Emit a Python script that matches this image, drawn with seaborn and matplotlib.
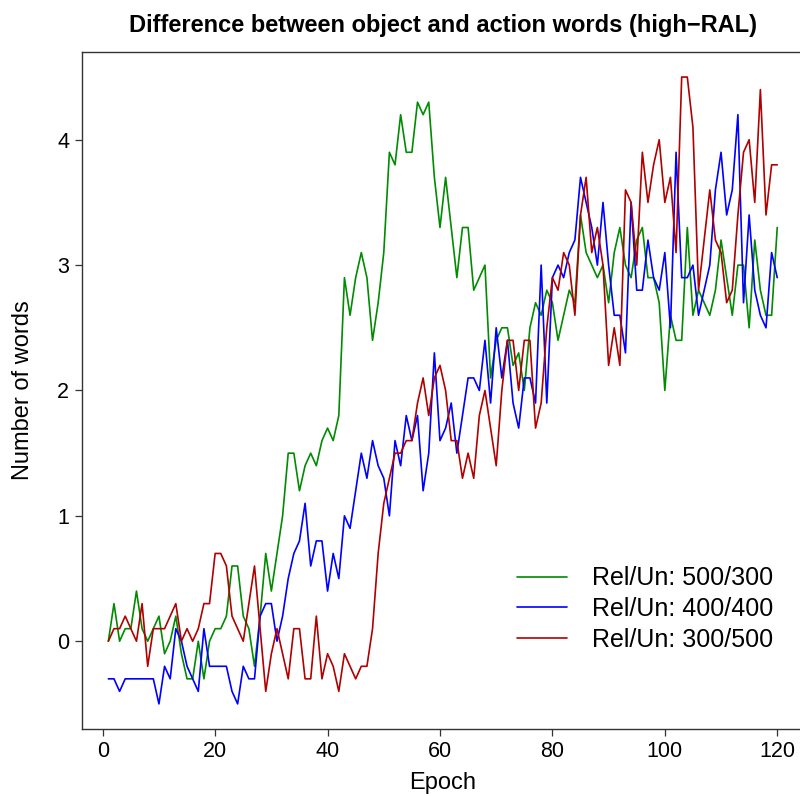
import numpy as np
import pandas as pd
import matplotlib
matplotlib.use("Agg")
import matplotlib.pyplot as plt
import seaborn as sns

# 数据：每个 epoch 的 object - action 词数差
epochs = list(range(1, 121))

rel500_un300 = [
    0.0, 0.3, 0.0, 0.1, 0.1, 0.4, 0.1, 0.0, 0.1, 0.2,
    -0.1, 0.0, 0.2, -0.1, -0.3, -0.3, 0.0, -0.3, 0.0, 0.1,
    0.1, 0.2, 0.6, 0.6, 0.2, 0.1, -0.2, 0.2, 0.7, 0.4,
    0.7, 1.0, 1.5, 1.5, 1.2, 1.4, 1.5, 1.4, 1.6, 1.7,
    1.6, 1.8, 2.9, 2.6, 2.9, 3.1, 2.9, 2.4, 2.7, 3.1,
    3.9, 3.8, 4.2, 3.9, 3.9, 4.3, 4.2, 4.3, 3.7, 3.3,
    3.7, 3.3, 2.9, 3.3, 3.3, 2.8, 2.9, 3.0, 2.1, 2.4,
    2.5, 2.5, 2.2, 2.3, 2.0, 2.5, 2.7, 2.6, 2.8, 2.7,
    2.4, 2.6, 2.8, 2.7, 3.4, 3.1, 3.0, 2.9, 3.0, 2.7,
    3.1, 3.3, 3.0, 2.9, 3.2, 3.3, 2.9, 2.9, 2.7, 2.0,
    2.6, 2.4, 2.4, 3.3, 2.6, 2.8, 2.7, 2.6, 2.8, 3.2,
    2.9, 2.6, 3.0, 3.0, 2.5, 3.2, 2.8, 2.6, 2.6, 3.3,
]

rel400_un400 = [
    -0.3, -0.3, -0.4, -0.3, -0.3, -0.3, -0.3, -0.3, -0.3, -0.5,
    -0.2, -0.3, 0.1, 0.0, -0.2, -0.3, -0.4, 0.1, -0.2, -0.2,
    -0.2, -0.2, -0.4, -0.5, -0.2, -0.3, -0.3, 0.2, 0.3, 0.3,
    0.0, 0.2, 0.5, 0.7, 0.8, 1.1, 0.6, 0.8, 0.8, 0.4,
    0.7, 0.5, 1.0, 0.9, 1.2, 1.5, 1.3, 1.6, 1.4, 1.3,
    1.0, 1.6, 1.4, 1.8, 1.6, 1.8, 1.2, 1.5, 2.3, 1.6,
    1.7, 1.9, 1.5, 1.8, 2.1, 2.1, 2.0, 2.4, 1.9, 2.5,
    2.1, 2.4, 1.9, 1.7, 2.1, 2.1, 1.9, 3.0, 1.9, 2.9,
    3.0, 2.9, 3.1, 3.2, 3.7, 3.5, 3.3, 3.0, 3.5, 3.0,
    2.6, 2.6, 2.3, 3.5, 2.8, 2.8, 3.2, 2.9, 2.8, 3.1,
    2.5, 3.9, 2.9, 2.9, 3.0, 2.6, 2.8, 3.0, 3.6, 3.9,
    3.4, 3.6, 4.2, 2.7, 3.4, 2.8, 2.6, 2.5, 3.1, 2.9,
]

rel300_un500 = [
    0.0, 0.1, 0.1, 0.2, 0.1, 0.0, 0.3, -0.2, 0.1, 0.1,
    0.1, 0.2, 0.3, 0.0, 0.1, 0.0, 0.1, 0.3, 0.3, 0.7,
    0.7, 0.6, 0.2, 0.1, 0.0, 0.3, 0.6, 0.1, -0.4, -0.1,
    0.1, -0.1, -0.3, 0.1, 0.1, -0.3, -0.3, 0.2, -0.3, -0.1,
    -0.2, -0.4, -0.1, -0.2, -0.3, -0.2, -0.2, 0.1, 0.7, 1.1,
    1.3, 1.5, 1.5, 1.6, 1.6, 1.9, 2.1, 1.8, 2.1, 2.2,
    2.0, 1.6, 1.6, 1.3, 1.5, 1.3, 1.8, 2.0, 1.7, 1.4,
    2.0, 2.4, 2.4, 2.0, 2.4, 2.4, 1.7, 1.9, 2.5, 2.9,
    2.8, 3.1, 3.0, 2.6, 3.4, 3.7, 3.1, 3.3, 3.0, 2.2,
    2.5, 2.2, 3.6, 3.5, 3.0, 3.9, 3.5, 3.8, 4.0, 3.5,
    3.7, 3.1, 4.5, 4.5, 4.1, 2.8, 3.2, 3.6, 3.2, 3.1,
    2.7, 2.8, 3.4, 3.9, 4.0, 3.5, 4.4, 3.4, 3.8, 3.8,
]

labels = ["Rel/Un: 500/300", "Rel/Un: 400/400", "Rel/Un: 300/500"]
colors = ["#008B00", "#0000FF", "#B00000"]

# 整理成长表给 seaborn 用
df = pd.DataFrame({
    "Epoch": epochs * 3,
    "Number of words": rel500_un300 + rel400_un400 + rel300_un500,
    "Condition": [labels[0]] * 120 + [labels[1]] * 120 + [labels[2]] * 120,
})

sns.set_style("white")
plt.rcParams['font.family'] = ['Liberation Sans', 'DejaVu Sans']
plt.rcParams['text.color'] = 'black'
plt.rcParams['axes.labelcolor'] = 'black'

fig = plt.figure(figsize=(8, 7.96), dpi=100)
# R 风格的绘图区域（右边框在画布外）
ax = fig.add_axes([0.102, 0.0842, 0.903, 0.8505])

sns.lineplot(data=df, x="Epoch", y="Number of words", hue="Condition",
             hue_order=labels, palette=colors, linewidth=1.2, ax=ax)

# R 默认的 4% 坐标轴扩展
ax.set_xlim(1 - 0.04 * 119, 120 + 0.04 * 119)
ax.set_ylim(-0.5 - 0.04 * 5, 4.5 + 0.04 * 5)
ax.set_xticks([0, 20, 40, 60, 80, 100, 120])
ax.set_yticks([0, 1, 2, 3, 4])

for s in ax.spines.values():
    s.set_color("#333333")
    s.set_linewidth(1.0)

ax.tick_params(axis="both", direction="out", length=5, width=0.9,
               colors="#333333", labelcolor="black", labelsize=15.5, pad=4)
ax.tick_params(axis="both", bottom=True, left=True)

ax.set_xlabel("Epoch", fontsize=17)
ax.set_ylabel("Number of words", fontsize=17)
ax.xaxis.set_label_coords(0.5, -0.08)
ax.xaxis.label.set_va("center")
ax.yaxis.set_label_coords(-0.081, 0.5)
ax.yaxis.label.set_va("center")

ax.set_title("Difference between object and action words (high\u2212RAL)",
             fontsize=17, fontweight="bold", y=1.03, pad=0, color="black")

ax.legend(loc="center left", bbox_to_anchor=(517 / 800, 1 - 609 / 796),
          bbox_transform=fig.transFigure, frameon=False, fontsize=18,
          handlelength=2.0, handletextpad=1.0, labelspacing=0.27,
          borderpad=0, borderaxespad=0)

plt.savefig("out.png", dpi=100)
